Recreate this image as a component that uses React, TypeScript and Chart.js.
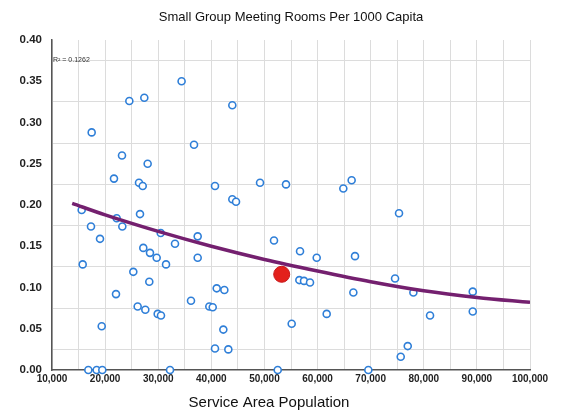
import React, { useEffect, useRef } from 'react';
import { Chart, registerables } from 'chart.js';

Chart.register(...registerables);

const chartTitle = 'Small Group Meeting Rooms Per 1000 Capita';
const xAxisTitle = 'Service Area Population';
const rSquaredLabel = 'R² = 0.1262';

// Service area population of each library
const popValues = [
  15590, 15780, 16840, 17340, 17470, 18410, 19040, 19360, 19470, 21670,
  22050, 22180, 23180, 23240, 24560, 25310, 26130, 26380, 26570, 27080,
  27190, 27380, 27570, 28010, 28320, 28450, 29710, 29900, 30470, 30520,
  31470, 32220, 33160, 34400, 36170, 36740, 37430, 37430, 39620, 40260,
  40690, 41010, 40690, 42260, 42450, 43200, 43950, 43950, 44650, 49170,
  51800, 52500, 54060, 55130, 56570, 56700, 57450, 58580, 59840, 61720,
  64850, 66420, 66740, 67050, 69560, 74590, 75340, 75660, 76980, 78040,
  81180, 89220, 89220,
];
// Small group meeting rooms per 1000 capita
const roomValues = [
  0.194, 0.128, 0.0, 0.174, 0.288, 0.0, 0.159, 0.053, 0.0, 0.232,
  0.092, 0.184, 0.26, 0.174, 0.326, 0.119, 0.077, 0.227, 0.189, 0.223,
  0.148, 0.33, 0.073, 0.25, 0.107, 0.142, 0.136, 0.068, 0.166, 0.066,
  0.128, 0.0, 0.153, 0.35, 0.084, 0.273, 0.162, 0.136, 0.077, 0.076,
  0.223, 0.099, 0.026, 0.049, 0.097, 0.025, 0.321, 0.207, 0.204, 0.227,
  0.157, 0.0, 0.225, 0.056, 0.109, 0.144, 0.108, 0.106, 0.136, 0.068,
  0.22, 0.23, 0.094, 0.138, 0.0, 0.111, 0.19, 0.016, 0.029, 0.094,
  0.066, 0.095, 0.071,
];

// Highlighted library
const subjectPop = [53250];
const subjectRooms = [0.116];

// Trend line
const trendPop = [13800, 20000, 30000, 40000, 50000, 60000, 70000, 80000, 90000, 100000];
const trendRooms = [0.202, 0.188, 0.168, 0.15, 0.134, 0.12, 0.107, 0.096, 0.088, 0.082];

const xMin = 10000;
const xMax = 100000;
const xStep = 5000;
const xLabelStep = 10000;
const yMin = 0;
const yMax = 0.4;
const yStep = 0.025;
const yLabelStep = 0.05;

const FONT = '"Liberation Sans", Arial, Helvetica, sans-serif';

const isLabelY = (v: number) => Math.round(v * 1000) % Math.round(yLabelStep * 1000) === 0;

const extraText = {
  id: 'extraText',
  afterDraw(chart: any) {
    const { ctx, chartArea } = chart;
    ctx.save();
    ctx.fillStyle = '#111';
    ctx.font = `15px ${FONT}`;
    ctx.textAlign = 'center';
    ctx.textBaseline = 'middle';
    ctx.fillText(xAxisTitle, chartArea.left + 217, 403);
    ctx.font = `7px ${FONT}`;
    ctx.fillStyle = '#333';
    ctx.textAlign = 'left';
    ctx.fillText(rSquaredLabel, chartArea.left + 1, chartArea.top + 20);
    ctx.restore();
  },
};

export default function App() {
  const canvasRef = useRef<HTMLCanvasElement | null>(null);

  useEffect(() => {
    if (!canvasRef.current) return;
    const chart = new Chart(canvasRef.current, {
      type: 'scatter',
      data: {
        datasets: [
          {
            label: 'Subject library',
            data: subjectPop.map((x, i) => ({ x, y: subjectRooms[i] })),
            backgroundColor: '#e3211c',
            borderColor: '#c8161a',
            borderWidth: 1,
            pointRadius: 8,
            order: 0,
          },
          {
            type: 'line',
            label: 'Trend',
            data: trendPop.map((x, i) => ({ x, y: trendRooms[i] })),
            borderColor: '#74206f',
            borderWidth: 3.5,
            pointRadius: 0,
            cubicInterpolationMode: 'monotone',
            fill: false,
            order: 1,
          },
          {
            label: 'Libraries',
            data: popValues.map((x, i) => ({ x, y: roomValues[i] })),
            backgroundColor: '#ffffff',
            borderColor: '#2f7fd8',
            borderWidth: 1.6,
            pointRadius: 3.5,
            clip: 8,
            order: 2,
          },
        ],
      } as any,
      options: {
        animation: false,
        responsive: true,
        maintainAspectRatio: false,
        events: [],
        layout: { padding: { left: 0, right: 36, top: 0, bottom: 0 } },
        plugins: {
          legend: { display: false },
          tooltip: { enabled: false },
          title: {
            display: true,
            text: chartTitle,
            fullSize: false,
            color: '#111',
            font: { family: FONT, size: 13, weight: 'normal' },
            padding: { top: 10, bottom: 14.4 },
          },
        },
        scales: {
          x: {
            type: 'linear',
            min: xMin,
            max: xMax,
            afterFit: (s: any) => {
              s.height = 43;
            },
            ticks: {
              stepSize: xStep,
              autoSkip: false,
              maxRotation: 0,
              padding: 3,
              color: '#222',
              font: { family: FONT, size: 10, weight: 'bold' },
              callback: (v: any) =>
                Number(v) % xLabelStep === 0 ? Number(v).toLocaleString('en-US') : '',
            },
            grid: { color: '#dcdcdc', drawTicks: false, lineWidth: 1 },
            border: { color: '#555', width: 1.5 },
          },
          y: {
            type: 'linear',
            min: yMin,
            max: yMax,
            afterFit: (s: any) => {
              s.width = 52;
            },
            ticks: {
              stepSize: yStep,
              autoSkip: false,
              padding: 10,
              color: '#222',
              font: { family: FONT, size: 11.5, weight: 'bold' },
              callback: (v: any) => (isLabelY(Number(v)) ? Number(v).toFixed(2) : ''),
            },
            grid: {
              drawTicks: false,
              lineWidth: 1,
              color: (c: any) =>
                c.tick && !isLabelY(c.tick.value) ? '#dcdcdc' : 'rgba(0,0,0,0)',
            },
            border: { color: '#555', width: 1.5 },
          },
        },
      } as any,
      plugins: [extraText],
    });
    return () => chart.destroy();
  }, []);

  return (
    <div
      style={{
        position: 'fixed',
        left: 0,
        top: 0,
        width: 566,
        height: 413,
        background: '#fff',
      }}
    >
      <canvas ref={canvasRef} />
    </div>
  );
}
